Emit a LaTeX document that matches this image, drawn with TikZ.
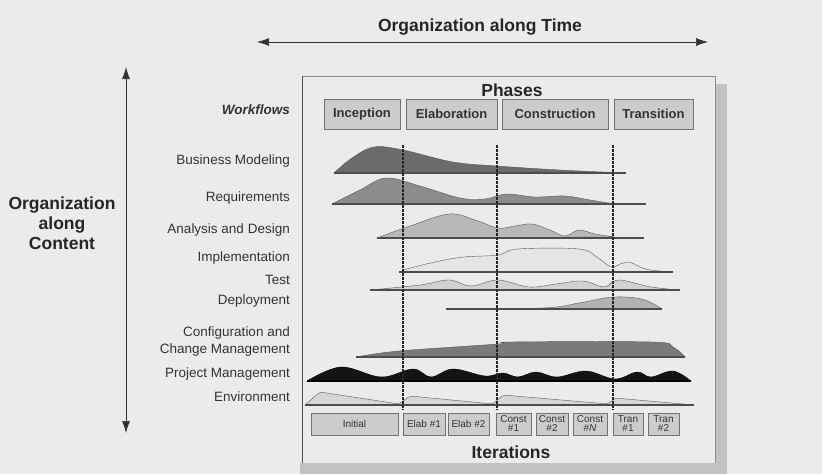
\documentclass[tikz,border=0pt]{standalone}
\usepackage{fontspec}
\setmainfont{Liberation Sans}
\usetikzlibrary{arrows.meta,positioning}

\definecolor{paper}{gray}{0.92}
\definecolor{shadowgray}{gray}{0.76}
\definecolor{boxfill}{gray}{0.80}
\definecolor{inkgray}{gray}{0.20}

\begin{document}
\begin{tikzpicture}[x=1pt, y=-1pt,
		lbl/.style = {anchor=east, inner sep=0pt, text=inkgray, font=\fontsize{13.5}{14}\selectfont},
		phasebox/.style = {draw=black!55, fill=boxfill, minimum height=30pt, inner sep=0pt, text=inkgray, font=\bfseries\fontsize{13}{14}\selectfont},
		iterbox/.style = {draw=black!55, fill=boxfill, minimum height=22pt, inner sep=0pt, align=center, text=inkgray, font=\fontsize{10}{9}\selectfont},
		bigtitle/.style = {inner sep=0pt, text=black!85, font=\bfseries\fontsize{17.5}{20}\selectfont},
		hump/.style = {draw=black!65, line width=.4pt},
		hbase/.style = {draw=black!70, line width=1.3pt},
		phasecut/.style = {draw=black!85, line width=1.1pt, dash pattern=on 2.5pt off 1.5pt},
		bigarrow/.style = {draw=black!80, line width=.7pt, {Latex[length=12pt,width=8pt]}-{Latex[length=12pt,width=8pt]}}]
	
	\useasboundingbox (0,0) rectangle (822,474);
	\fill[paper] (0,0) rectangle (822,474);
	
	% frame with shadow
	\fill[shadowgray] (715,84) rectangle (727,474);
	\fill[shadowgray] (300,463) rectangle (727,474);
	\draw[black!45, line width=.6pt] (302,76) -- (715,76) -- (715,463);
	\draw[black!70, line width=.7pt] (302,76) -- (302,463);
	
	% axes
	\node[bigtitle, anchor=base] (timettl) at (480,31) {Organization along Time};
	\coordinate (tl) at (257,42);
	\coordinate (tr) at (708,42);
	\draw[bigarrow] (tl) -- (tr);
	\node[bigtitle, align=center] (contttl) at (62,223) {Organization\\along\\Content};
	\coordinate (vt) at (126,67);
	\coordinate (vb) at (126,433);
	\draw[bigarrow] (vt) -- (vb);
	
	% phases
	\node[bigtitle] (phases) at (512,90) {Phases};
	\node[phasebox, minimum width=76pt] (inc) at (362,114) {Inception};
	\node[phasebox, minimum width=91pt] (elab) at (451.5,114) {Elaboration};
	\node[phasebox, minimum width=106pt] (cons) at (555,114) {Construction};
	\node[phasebox, minimum width=79pt] (tran) at (653.5,114) {Transition};
	\node[lbl, font=\bfseries\itshape\fontsize{13.5}{14}\selectfont] (wf) at (290,110) {Workflows};
	
	% workflow labels
	\node[lbl] (bm) at (290,161) {Business Modeling};
	\node[lbl] (req) at (290,198) {Requirements};
	\node[lbl] (ad) at (290,230) {Analysis and Design};
	\node[lbl] (impl) at (290,258) {Implementation};
	\node[lbl] (test) at (290,280) {Test};
	\node[lbl] (depl) at (290,301) {Deployment};
	\node[lbl] (ccm1) at (290,333) {Configuration and};
	\node[lbl] (ccm2) at (290,350) {Change Management};
	\node[lbl] (pm) at (290,374) {Project Management};
	\node[lbl] (env) at (290,397) {Environment};
	
	% humps
	\filldraw[hump, fill=black!58] plot[smooth, tension=.6] coordinates {(334,173) (352,158) (374,147) (403,150) (453,162) (497,166) (560,170) (626,173)} -- cycle; % business modeling
	\draw[hbase] (334,173) -- (626,173);
	\filldraw[hump, fill=black!45] plot[smooth, tension=.6] coordinates {(332,204) (360,190) (386,178) (420,186) (460,198) (485,199) (507,194) (535,197) (565,196) (590,200) (615,204)} -- cycle; % requirements
	\draw[hbase] (332,204) -- (646,204);
	\filldraw[hump, fill=black!28] plot[smooth, tension=.6] coordinates {(377,238) (410,226) (449,214) (475,220) (498,228) (515,226) (532,224) (550,230) (565,236) (579,230) (595,234) (615,237)} -- cycle; % analysis and design
	\draw[hbase] (377,238) -- (644,238);
	\filldraw[hump, fill=black!10] plot[smooth, tension=.6] coordinates {(403,270) (435,262) (464,257) (498,255) (518,249) (579,249) (598,258) (611,267) (620,264) (629,262) (638,266) (650,270) (673,272)} -- (403,272) -- cycle; % implementation
	\draw[hbase] (399,272) -- (673,272);
	\filldraw[hump, fill=black!18] plot[smooth, tension=.6] coordinates {(370,290) (420,285) (449,280) (471,286) (498,280) (529,287) (556,284) (583,281) (604,287) (619,280) (651,287) (680,290)} -- cycle; % test
	\draw[hbase] (370,290) -- (680,290);
	\filldraw[hump, fill=black!30] plot[smooth, tension=.6] coordinates {(446,309) (543,308) (579,303) (605,298) (625,297) (645,300) (662,309)} -- cycle; % deployment
	\draw[hbase] (446,309) -- (662,309);
	\filldraw[hump, fill=black!52] plot[smooth, tension=.6] coordinates {(356,357) (399,351) (498,344) (511,342) (651,342) (673,347) (685,357)} -- cycle; % config and change
	\draw[hbase] (356,357) -- (685,357);
	\filldraw[hump, draw=black, fill=black!92] plot[smooth, tension=.6] coordinates {(307,381) (341,367) (381,377) (413,369) (431,377) (453,369) (485,376) (503,373) (518,377) (536,372) (557,377) (586,371) (615,379) (637,372) (651,377) (673,371) (691,381)} -- cycle; % project management
	\draw[hbase, draw=black] (307,381) -- (691,381);
	\filldraw[hump, fill=black!16, rounded corners=2pt] (305,405) -- (320,392) -- (399,404) -- (410,396) -- (493,404) -- (503,395) -- (608,404) -- (615,398) -- (694,405) -- cycle; % environment
	\draw[hbase] (305,405) -- (694,405);
	
	% phase boundaries
	\foreach \x in {403,497,613}
		\draw[phasecut] (\x,145) -- (\x,410);
	
	% iterations
	\node[iterbox, minimum width=87pt] (it1) at (354.5,424) {Initial};
	\node[iterbox, minimum width=42pt] (it2) at (424,424) {Elab \#1};
	\node[iterbox, minimum width=41pt] (it3) at (468.5,424) {Elab \#2};
	\node[iterbox, minimum width=35pt] (it4) at (513.5,424) {Const\\\#1};
	\node[iterbox, minimum width=32pt] (it5) at (552,424) {Const\\\#2};
	\node[iterbox, minimum width=34pt] (it6) at (590,424) {Const\\\#\textit{N}};
	\node[iterbox, minimum width=30pt] (it7) at (628,424) {Tran\\\#1};
	\node[iterbox, minimum width=31pt] (it8) at (663.5,424) {Tran\\\#2};
	\node[bigtitle, anchor=base] (iters) at (511,458) {Iterations};
\end{tikzpicture}
\end{document}
